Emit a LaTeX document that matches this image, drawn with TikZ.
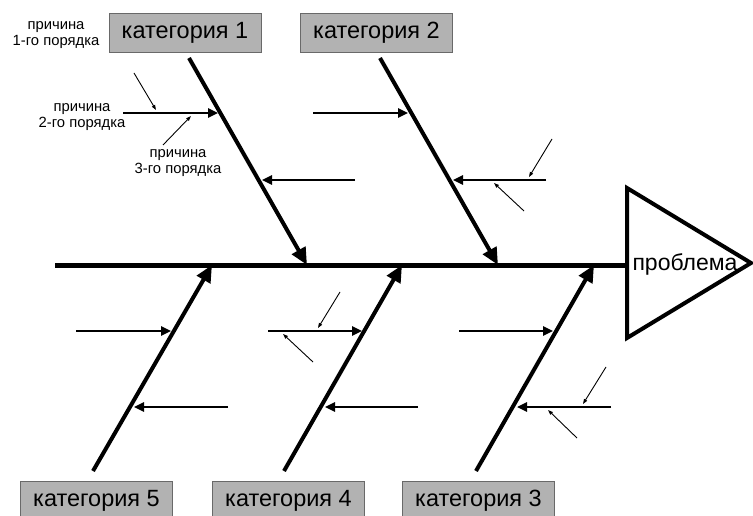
\documentclass[tikz,border=0pt]{standalone}
\usepackage{fontspec}
\setmainfont{Liberation Sans}
\usetikzlibrary{arrows.meta}
\definecolor{catfill}{RGB}{178,178,178}
\definecolor{catline}{RGB}{105,105,105}

\begin{document}
\begin{tikzpicture}[x=1pt,y=-1pt,
  cat/.style={draw=catline, line width=0.8pt, fill=catfill, minimum width=152pt,
    minimum height=39pt, inner sep=0pt, font=\fontsize{23.5}{26}\selectfont},
  note/.style={align=center, font=\fontsize{14.8}{16.5}\selectfont, inner sep=0pt},
  bone/.style={line width=4pt, -{Triangle[length=17pt,width=15pt]}},
  rib/.style={line width=2.4pt, -{Triangle[length=10pt,width=9pt]}},
  twig/.style={line width=0.9pt, -{Triangle[length=5pt,width=3.5pt]}},
]
\useasboundingbox (0,0) rectangle (753,516);

% category boxes
\node[cat] (c1) at (185,32.5) {категория 1};
\node[cat] (c2) at (376.5,32.5) {категория 2};
\node[cat] (c5) at (96.5,500.5) {категория 5};
\node[cat] (c4) at (288.5,500.5) {категория 4};
\node[cat] (c3) at (478.5,500.5) {категория 3};

% head of the fish
\coordinate (hTop) at (627,188);
\coordinate (hBot) at (627,338);
\coordinate (hTip) at (751,263);
\draw[line width=4pt, line join=miter] (hTop) -- (hTip) -- (hBot) -- cycle;
\node[font=\fontsize{23}{26}\selectfont, inner sep=0pt] (prob) at (685,264) {проблема};

% spine
\coordinate (tail) at (55,265);
\coordinate (spineEnd) at (627,265);
\draw[line width=5pt] (tail) -- (spineEnd);

% main bones
\coordinate (b1s) at (189,58);  \coordinate (b1e) at (307,265);
\coordinate (b2s) at (380,58);  \coordinate (b2e) at (498,265);
\coordinate (b5s) at (93,471);  \coordinate (b5e) at (212,265);
\coordinate (b4s) at (284,471); \coordinate (b4e) at (402,265);
\coordinate (b3s) at (476,471); \coordinate (b3e) at (594,265);
\draw[bone] (b1s) -- (b1e);
\draw[bone] (b2s) -- (b2e);
\draw[bone] (b5s) -- (b5e);
\draw[bone] (b4s) -- (b4e);
\draw[bone] (b3s) -- (b3e);

% second-order causes
\coordinate (r1a) at (123,113); \coordinate (r1b) at (218,113);
\coordinate (r1c) at (355,180); \coordinate (r1d) at (262,180);
\coordinate (r2a) at (313,113); \coordinate (r2b) at (408,113);
\coordinate (r2c) at (546,180); \coordinate (r2d) at (453,180);
\coordinate (r5a) at (76,331);  \coordinate (r5b) at (171,331);
\coordinate (r5c) at (228,407); \coordinate (r5d) at (134,407);
\coordinate (r4a) at (268,331); \coordinate (r4b) at (362,331);
\coordinate (r4c) at (418,407); \coordinate (r4d) at (325,407);
\coordinate (r3a) at (459,331); \coordinate (r3b) at (553,331);
\coordinate (r3c) at (611,407); \coordinate (r3d) at (517,407);
\foreach \p/\q in {r1a/r1b,r1c/r1d,r2a/r2b,r2c/r2d,r5a/r5b,r5c/r5d,r4a/r4b,r4c/r4d,r3a/r3b,r3c/r3d}
  \draw[rib] (\p) -- (\q);

% third-order causes
\coordinate (t1a) at (134,73);  \coordinate (t1b) at (156,110);
\coordinate (t1c) at (163,145); \coordinate (t1d) at (191,116);
\coordinate (t2a) at (552,139); \coordinate (t2b) at (529,177);
\coordinate (t2c) at (524,211); \coordinate (t2d) at (494,183);
\coordinate (t4a) at (340,292); \coordinate (t4b) at (318,328);
\coordinate (t4c) at (313,362); \coordinate (t4d) at (283,334);
\coordinate (t3a) at (606,367); \coordinate (t3b) at (583,404);
\coordinate (t3c) at (577,438); \coordinate (t3d) at (548,410);
\foreach \p/\q in {t1a/t1b,t1c/t1d,t2a/t2b,t2c/t2d,t4a/t4b,t4c/t4d,t3a/t3b,t3c/t3d}
  \draw[twig] (\p) -- (\q);

% legend of cause levels
\node[note] (n1) at (56,35) {причина\\1-го порядка};
\node[note] (n2) at (82,117) {причина\\2-го порядка};
\node[note] (n3) at (178,163) {причина\\3-го порядка};
\end{tikzpicture}
\end{document}
